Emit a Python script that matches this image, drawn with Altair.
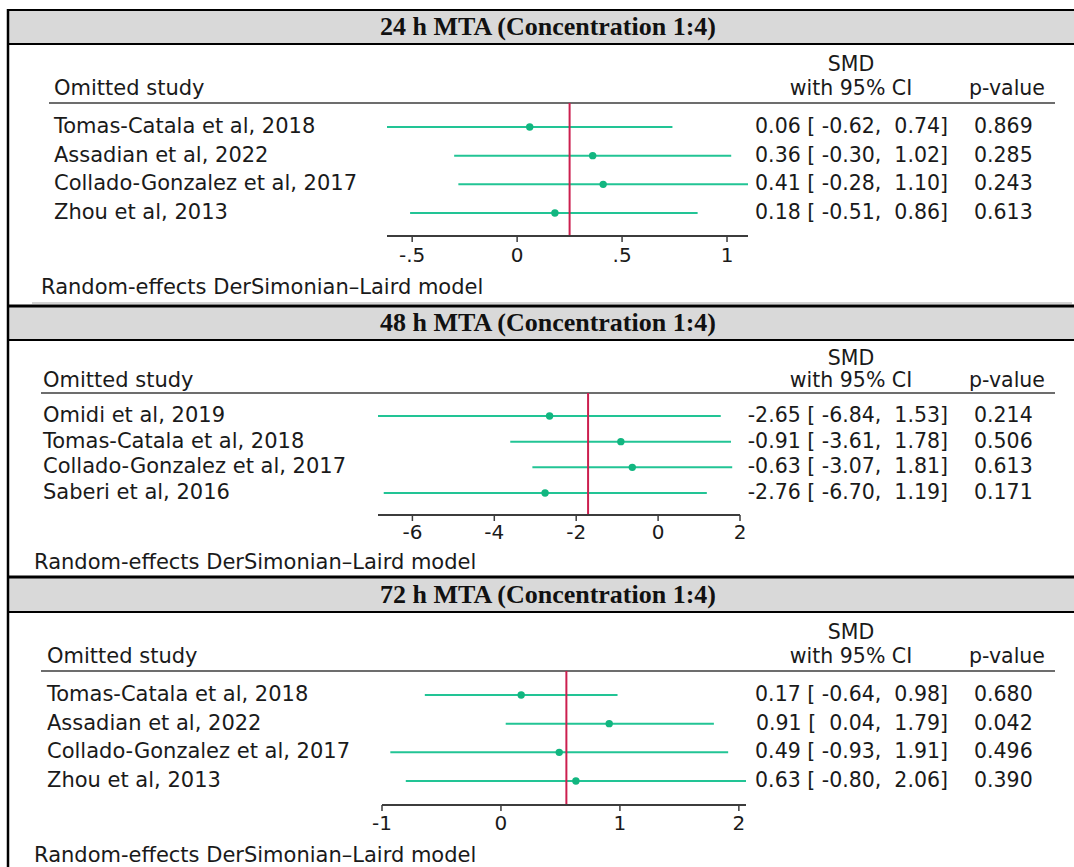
import altair as alt
import pandas as pd

# ---------------------------------------------------------------------------
# Leave-one-out sensitivity analysis, three follow-up times
# ---------------------------------------------------------------------------
titles = [
    "24 h MTA (Concentration 1:4)",
    "48 h MTA (Concentration 1:4)",
    "72 h MTA (Concentration 1:4)",
]

studies_24 = ["Tomas-Catala et al, 2018", "Assadian et al, 2022",
              "Collado-Gonzalez et al, 2017", "Zhou et al, 2013"]
smd_24 = [0.06, 0.36, 0.41, 0.18]
lo_24 = [-0.62, -0.30, -0.28, -0.51]
hi_24 = [0.74, 1.02, 1.10, 0.86]
p_24 = [0.869, 0.285, 0.243, 0.613]
overall_24 = 0.25
ticks_24 = [-0.5, 0, 0.5, 1]
tick_labels_24 = ["-.5", "0", ".5", "1"]

studies_48 = ["Omidi et al, 2019", "Tomas-Catala et al, 2018",
              "Collado-Gonzalez et al, 2017", "Saberi et al, 2016"]
smd_48 = [-2.65, -0.91, -0.63, -2.76]
lo_48 = [-6.84, -3.61, -3.07, -6.70]
hi_48 = [1.53, 1.78, 1.81, 1.19]
p_48 = [0.214, 0.506, 0.613, 0.171]
overall_48 = -1.71
ticks_48 = [-6, -4, -2, 0, 2]
tick_labels_48 = ["-6", "-4", "-2", "0", "2"]

studies_72 = ["Tomas-Catala et al, 2018", "Assadian et al, 2022",
              "Collado-Gonzalez et al, 2017", "Zhou et al, 2013"]
smd_72 = [0.17, 0.91, 0.49, 0.63]
lo_72 = [-0.64, 0.04, -0.93, -0.80]
hi_72 = [0.98, 1.79, 1.91, 2.06]
p_72 = [0.680, 0.042, 0.496, 0.390]
overall_72 = 0.55
ticks_72 = [-1, 0, 1, 2]
tick_labels_72 = ["-1", "0", "1", "2"]

# ---------------------------------------------------------------------------
# Styling and page layout (pixels)
# ---------------------------------------------------------------------------
W, H = 1074, 867
SANS = "DejaVu Sans"
SERIF = "Liberation Serif"
FS_LABEL = 21      # study names, "Omitted study", footer
FS_NUM = 20.5      # estimate / p-value columns and their headers
FS_TICK = 20
INK = "#1a1a1a"
AXIS_INK = "#3c3c3c"
GREEN_LINE = "#22c495"
GREEN_DOT = "#12b680"
RED = "#cc1f4f"
BAND = "#d9d9d9"

CI_RIGHT = 948
P_LEFT = 974
SMD_CENTER = 851
PVAL_CENTER = 1007
RULE_RIGHT = 1055

layouts = [
    dict(band=(10, 44), title_y=27, smd_y=65, head_y=89, rule_y=103,
         rows=[127, 213], axis_y=236, tick_y=256, foot_y=288,
         label_x=54, rule_x=49, foot_x=41, xrange=[387, 748], top_w=2),
    dict(band=(306, 340), title_y=323, smd_y=359, head_y=381, rule_y=393,
         rows=[416, 493], axis_y=515, tick_y=533, foot_y=563,
         label_x=43, rule_x=41, foot_x=34, xrange=[378, 740], top_w=3),
    dict(band=(577, 612), title_y=595, smd_y=633, head_y=657, rule_y=671,
         rows=[695, 781], axis_y=805, tick_y=824, foot_y=856,
         label_x=47, rule_x=41, foot_x=34, xrange=[382, 746], top_w=3),
]

NB = "\u00a0"


def ci_text(s, l, h):
    return f"{s:.2f} [{l:6.2f},{h:6.2f}]".replace(" ", NB)


def one(**kw):
    return pd.DataFrame({k: [v] for k, v in kw.items()})


def text_at(txt, x, y, align="left", size=FS_NUM, **style):
    params = dict(align=align, baseline="middle", font=SANS, fontSize=size, color=INK)
    params.update(style)
    return alt.Chart(one(t=txt)).mark_text(**params).encode(
        x=alt.value(x), y=alt.value(y), text="t:N")


def hline(x0, x1, y, color, width):
    return alt.Chart(one(k=0)).mark_rule(color=color, strokeWidth=width).encode(
        x=alt.value(x0), x2=alt.value(x1), y=alt.value(y))


def panel(title, studies, smd, lo, hi, pv, overall, ticks, tick_labels, g):
    df = pd.DataFrame({
        "study": studies, "smd": smd, "lo": lo, "hi": hi,
        "row": list(range(len(studies))),
        "ci": [ci_text(s, l, h) for s, l, h in zip(smd, lo, hi)],
        "p": [f"{p:.3f}" for p in pv],
    })
    dmin = min(min(lo), min(ticks))
    dmax = max(max(hi), max(ticks))
    xs = alt.Scale(domain=[dmin, dmax], range=g["xrange"], zero=False, nice=False)
    ys = alt.Scale(domain=[0, len(studies) - 1], range=g["rows"], zero=False, nice=False)
    yrow = alt.Y("row:Q", scale=ys, axis=None)

    base = alt.Chart(df)
    ci_lines = base.mark_rule(color=GREEN_LINE, strokeWidth=2).encode(
        x=alt.X("lo:Q", scale=xs, axis=None), x2="hi:Q", y=yrow)
    dots = base.mark_circle(color=GREEN_DOT, size=55, opacity=1).encode(
        x=alt.X("smd:Q", scale=xs, axis=None), y=yrow)
    names = base.mark_text(align="left", baseline="middle", font=SANS,
                           fontSize=FS_LABEL, color=INK).encode(
        x=alt.value(g["label_x"]), y=yrow, text="study:N")
    ci_col = base.mark_text(align="right", baseline="middle", font=SANS,
                            fontSize=FS_NUM, color=INK).encode(
        x=alt.value(CI_RIGHT), y=yrow, text="ci:N")
    p_col = base.mark_text(align="left", baseline="middle", font=SANS,
                           fontSize=FS_NUM, color=INK).encode(
        x=alt.value(P_LEFT), y=yrow, text="p:N")

    ref = alt.Chart(one(overall=overall)).mark_rule(color=RED, strokeWidth=2).encode(
        x=alt.X("overall:Q", scale=xs, axis=None),
        y=alt.value(g["rule_y"]), y2=alt.value(g["axis_y"]))

    axis_line = alt.Chart(one(a=dmin, b=dmax)).mark_rule(
        color=AXIS_INK, strokeWidth=1.8).encode(
        x=alt.X("a:Q", scale=xs, axis=None), x2="b:Q", y=alt.value(g["axis_y"]))
    tick_df = pd.DataFrame({"v": ticks, "lab": tick_labels})
    tick_marks = alt.Chart(tick_df).mark_rule(color=AXIS_INK, strokeWidth=1.5).encode(
        x=alt.X("v:Q", scale=xs, axis=None),
        y=alt.value(g["axis_y"]), y2=alt.value(g["axis_y"] + 6))
    tick_text = alt.Chart(tick_df).mark_text(align="center", baseline="middle",
                                             font=SANS, fontSize=FS_TICK, color=INK).encode(
        x=alt.X("v:Q", scale=xs, axis=None), y=alt.value(g["tick_y"]), text="lab:N")

    b0, b1 = g["band"]
    band = alt.Chart(one(k=0)).mark_rect(color=BAND).encode(
        x=alt.value(8), x2=alt.value(W), y=alt.value(b0), y2=alt.value(b1))
    title_txt = text_at(title, 548, g["title_y"], align="center", size=26,
                        font=SERIF, fontWeight="bold", color="#111111")

    layers = [
        band,
        hline(8, W, b0, "#000000", g["top_w"]),
        hline(8, W, b1, "#000000", 2),
        title_txt,
        text_at("SMD", SMD_CENTER, g["smd_y"], align="center"),
        text_at("with 95% CI", SMD_CENTER, g["head_y"], align="center"),
        text_at("p-value", PVAL_CENTER, g["head_y"], align="center"),
        text_at("Omitted study", g["label_x"], g["head_y"], size=FS_LABEL),
        hline(g["rule_x"], RULE_RIGHT, g["rule_y"], AXIS_INK, 1.6),
        ci_lines, ref, dots, names, ci_col, p_col,
        axis_line, tick_marks, tick_text,
        text_at("Random-effects DerSimonian\u2013Laird model", g["foot_x"],
                g["foot_y"], size=FS_LABEL),
    ]
    return alt.layer(*layers)


p1 = panel(titles[0], studies_24, smd_24, lo_24, hi_24, p_24, overall_24,
           ticks_24, tick_labels_24, layouts[0])
p2 = panel(titles[1], studies_48, smd_48, lo_48, hi_48, p_48, overall_48,
           ticks_48, tick_labels_48, layouts[1])
p3 = panel(titles[2], studies_72, smd_72, lo_72, hi_72, p_72, overall_72,
           ticks_72, tick_labels_72, layouts[2])

# outer frame: left border and the faint rule closing the first plot
frame = alt.layer(
    alt.Chart(one(k=0)).mark_rule(color="#000000", strokeWidth=2.5).encode(
        x=alt.value(8), y=alt.value(9), y2=alt.value(H)),
    hline(32, 1072, 303, "#c4c4c4", 1.5),
)

chart = alt.layer(p1, p2, p3, frame).resolve_scale(
    x="independent", y="independent"
).properties(
    width=W, height=H, padding=0, autosize="none", background="white"
).configure_view(stroke=None)

chart.save("out.html", embed_options={"renderer": "svg", "actions": False})
